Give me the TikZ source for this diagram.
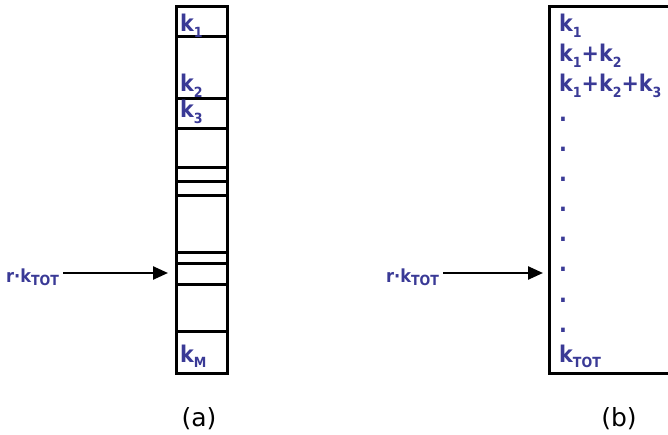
\documentclass[tikz,border=0pt]{standalone}
\usepackage{fontspec}
\setmainfont{DejaVu Sans Condensed}
\newfontfamily\capfont{DejaVu Sans}
\usetikzlibrary{arrows.meta}
\definecolor{kblue}{RGB}{58,58,150}
\newcommand{\lo}[1]{\raisebox{-0.4ex}{\fontsize{14}{14}\selectfont #1}}

\begin{document}
\begin{tikzpicture}[x=1pt, y=-1pt,
    col/.style = {draw, line width=3.4pt, rectangle, inner sep=0pt},
    divider/.style = {line width=3pt},
    lab/.style = {text=kblue, inner sep=0pt, anchor=base west, font=\bfseries\fontsize{23}{23}\selectfont},
    rlab/.style = {lab, font=\bfseries\fontsize{18}{18}\selectfont},
    arr/.style = {line width=2.4pt, -{Triangle[length=15pt,width=13pt]}},
    caption/.style = {anchor=base, inner sep=0pt, font=\capfont\fontsize{25}{25}\selectfont}]
    \useasboundingbox (0,0) rectangle (668,435);
    \clip (0,0) rectangle (668,435);

    % column (a)
    \node[col, minimum width=51pt, minimum height=367pt, anchor=north west] (colA) at (175,5) {};
    \foreach \y in {37,99,129,168,182,196,253,263,284,331}
        \draw[divider] (colA.west |- 0,\y) -- (colA.east |- 0,\y);
    \node[lab] (a1) at (180,32)  {k\lo{1}};
    \node[lab] (a2) at (180,92)  {k\lo{2}};
    \node[lab] (a3) at (180,118) {k\lo{3}};
    \node[lab] (aM) at (180,362) {k\lo{M}};

    \node[rlab] (rA) at (6,282) {r·k\lo{TOT}};
    \draw[arr, shorten <=4pt, shorten >=7pt] (rA.east |- 0,273) -- (colA.west |- 0,273);

    % column (b)
    \node[col, minimum width=200pt, minimum height=367pt, anchor=north west] (colB) at (548,5) {};
    \node[lab] (b1) at (559,32) {k\lo{1}};
    \node[lab] (b2) at (559,62) {k\lo{1}+k\lo{2}};
    \node[lab] (b3) at (559,92) {k\lo{1}+k\lo{2}+k\lo{3}};
    \foreach \i in {0,...,7}
        \node[lab] (dot\i) at (559,122+30*\i) {.};
    \node[lab] (bT) at (559,362) {k\lo{TOT}};

    \node[rlab] (rB) at (386,282) {r·k\lo{TOT}};
    \draw[arr, shorten <=4pt, shorten >=5pt] (rB.east |- 0,273) -- (colB.west |- 0,273);

    \node[caption] (capA) at (199,426) {(a)};
    \node[caption] (capB) at (619,426) {(b)};
\end{tikzpicture}
\end{document}
